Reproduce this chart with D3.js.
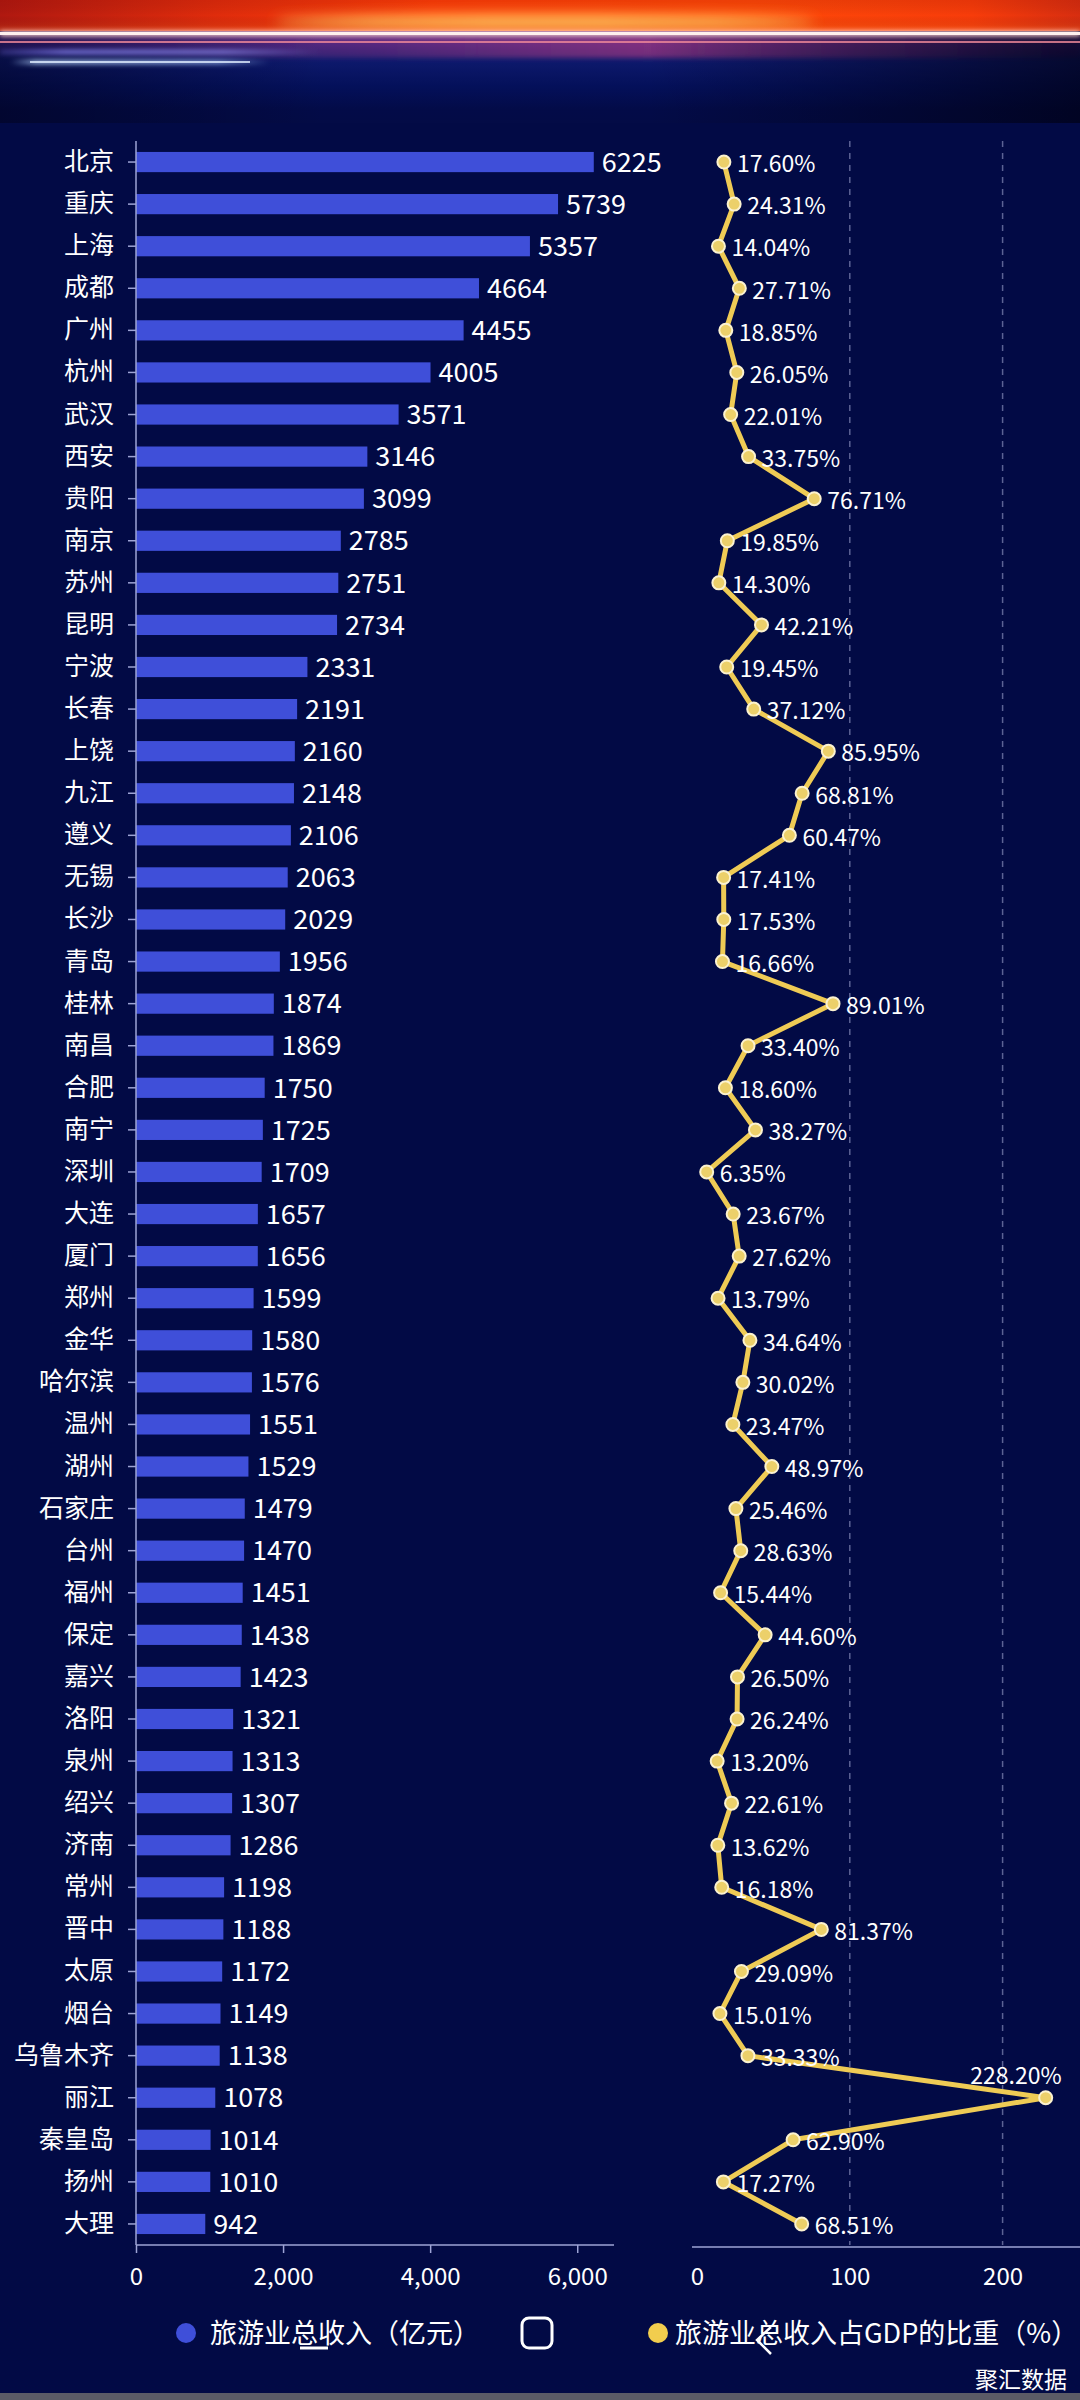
<!DOCTYPE html>
<html><head><meta charset="utf-8">
<script src="https://cdn.jsdelivr.net/npm/d3@7"></script>
<style>html,body{margin:0;padding:0;background:#030b44;}svg{display:block;}</style>
</head><body>
<svg id="c" width="1080" height="2400"></svg>
<script>
const categories = ["北京","重庆","上海","成都","广州","杭州","武汉","西安","贵阳","南京","苏州","昆明","宁波","长春","上饶","九江","遵义","无锡","长沙","青岛","桂林","南昌","合肥","南宁","深圳","大连","厦门","郑州","金华","哈尔滨","温州","湖州","石家庄","台州","福州","保定","嘉兴","洛阳","泉州","绍兴","济南","常州","晋中","太原","烟台","乌鲁木齐","丽江","秦皇岛","扬州","大理"];
const revenue = [6225,5739,5357,4664,4455,4005,3571,3146,3099,2785,2751,2734,2331,2191,2160,2148,2106,2063,2029,1956,1874,1869,1750,1725,1709,1657,1656,1599,1580,1576,1551,1529,1479,1470,1451,1438,1423,1321,1313,1307,1286,1198,1188,1172,1149,1138,1078,1014,1010,942];
const gdpShare = [17.60,24.31,14.04,27.71,18.85,26.05,22.01,33.75,76.71,19.85,14.30,42.21,19.45,37.12,85.95,68.81,60.47,17.41,17.53,16.66,89.01,33.40,18.60,38.27,6.35,23.67,27.62,13.79,34.64,30.02,23.47,48.97,25.46,28.63,15.44,44.60,26.50,26.24,13.20,22.61,13.62,16.18,81.37,29.09,15.01,33.33,228.20,62.90,17.27,68.51];
const leftTicks = [0,2000,4000,6000];
const rightTicks = [0,100,200];
const seriesNames = ["旅游业总收入（亿元）","旅游业总收入占GDP的比重（%）"];
const watermark = "聚汇数据";

(function(){
const FONT = '"Noto Sans CJK SC","Noto Sans",sans-serif';
const svg = d3.select("#c").style("font-family", FONT);
const defs = svg.append("defs");

svg.append("rect").attr("width",1080).attr("height",2400).attr("fill","#020a45");

// ---- banner ----
function grad(id, horiz, stops){
  const g = defs.append("linearGradient").attr("id",id).attr("x1",0).attr("y1",0).attr("x2",horiz?1:0).attr("y2",horiz?0:1);
  stops.forEach(s=>g.append("stop").attr("offset",s[0]).attr("stop-color",s[1]).attr("stop-opacity",s[2]==null?1:s[2]));
}
grad("gTopH", true, [[0,"#b01810"],[0.2,"#e02c0c"],[0.4,"#ff3e08"],[0.7,"#ff4808"],[0.9,"#f83c0a"],[1,"#d82e10"]]);
grad("gTopV", false, [[0,"#600000",0.12],[0.5,"#000",0],[1,"#ff9030",0.2]]);
grad("gLowV", false, [[0,"#6a2a78"],[0.12,"#3a2080"],[0.3,"#0e1a6e"],[0.6,"#04105a"],[0.85,"#030b48"],[1,"#030b46"]]);
grad("gLowH", true, [[0,"#000014",0.45],[0.3,"#000014",0],[0.6,"#000014",0],[1,"#000010",0.65]]);
grad("gMag", true, [[0,"#c04080",0],[0.35,"#c04080",0.25],[0.6,"#b03a80",0.6],[0.85,"#802a60",0.4],[1,"#401030",0.2]]);
grad("gStreakA", true, [[0,"#7f7cff",0.3],[0.2,"#8f8cff",0.9],[0.7,"#9a98ff",0.8],[1,"#9a98ff",0]]);
grad("gStreakB", true, [[0,"#a8c8ff",0],[0.1,"#b8d8ff",0.95],[0.8,"#a8c8ff",0.8],[1,"#a8c8ff",0]]);
const blur = defs.append("filter").attr("id","blur").attr("x","-20%").attr("y","-300%").attr("width","140%").attr("height","700%");
blur.append("feGaussianBlur").attr("stdDeviation",2.5);
const blur2 = defs.append("filter").attr("id","blur2").attr("x","-20%").attr("y","-300%").attr("width","140%").attr("height","700%");
blur2.append("feGaussianBlur").attr("stdDeviation",7);

svg.append("rect").attr("x",0).attr("y",0).attr("width",1080).attr("height",31).attr("fill","url(#gTopH)");
svg.append("rect").attr("x",0).attr("y",0).attr("width",1080).attr("height",31).attr("fill","url(#gTopV)");
svg.append("ellipse").attr("cx",545).attr("cy",22).attr("rx",270).attr("ry",6).attr("fill","#ffe070").attr("opacity",0.95).attr("filter","url(#blur2)");
svg.append("rect").attr("x",0).attr("y",31).attr("width",1080).attr("height",92).attr("fill","url(#gLowV)");
svg.append("rect").attr("x",0).attr("y",36).attr("width",1080).attr("height",22).attr("fill","url(#gMag)").attr("filter","url(#blur)");
svg.append("rect").attr("x",0).attr("y",31).attr("width",1080).attr("height",92).attr("fill","url(#gLowH)");
svg.append("rect").attr("x",0).attr("y",31).attr("width",1080).attr("height",5).attr("fill","#ffd8d4").attr("filter","url(#blur)");
svg.append("rect").attr("x",0).attr("y",32).attr("width",1080).attr("height",3).attr("fill","#fff0ee");
svg.append("rect").attr("x",0).attr("y",41).attr("width",1080).attr("height",2).attr("fill","#f08a9a").attr("opacity",0.8);
svg.append("rect").attr("x",0).attr("y",50).attr("width",320).attr("height",4).attr("fill","url(#gStreakA)").attr("filter","url(#blur)");
svg.append("rect").attr("x",10).attr("y",60).attr("width",260).attr("height",4).attr("fill","url(#gStreakB)").attr("filter","url(#blur)");
svg.append("rect").attr("x",30).attr("y",61).attr("width",220).attr("height",2).attr("fill","#e0ecff").attr("opacity",0.8);

// ---- left bar chart ----
const y0 = 141, y1 = 2245;
const y = d3.scaleBand().domain(categories).range([y0, y1]).paddingInner(0.52).paddingOuter(0.26);
const xL = d3.scaleLinear().domain([0,6500]).range([136,614]);
const axisCol = "#9ea4d6";

svg.append("g").selectAll("rect").data(categories).join("rect")
  .attr("x", xL(0)).attr("y", d=>y(d)).attr("height", y.bandwidth())
  .attr("width", (d,i)=>xL(revenue[i])-xL(0)).attr("fill","#3f4fd9");

svg.append("g").selectAll("text").data(categories).join("text")
  .attr("x",(d,i)=>xL(revenue[i])+8).attr("y",d=>y(d)+y.bandwidth()/2).attr("dy","0.36em")
  .attr("fill","#ffffff").attr("font-size",27).text((d,i)=>revenue[i]);

const yAx = svg.append("g").attr("transform","translate(136,0)")
  .call(d3.axisLeft(y).tickSize(8).tickPadding(14));
yAx.select(".domain").attr("stroke",axisCol).attr("stroke-width",1.5).attr("d",`M0,${y0}V${y1}`);
yAx.selectAll(".tick line").attr("stroke",axisCol).attr("stroke-width",1.5);
yAx.selectAll(".tick text").attr("fill","#ffffff").attr("font-size",25).attr("font-family",FONT);

const xAx = svg.append("g").attr("transform",`translate(0,${y1})`)
  .call(d3.axisBottom(xL).tickValues(leftTicks).tickFormat(d3.format(",")).tickSize(8).tickPadding(15));
xAx.select(".domain").attr("stroke",axisCol).attr("stroke-width",1.5).attr("d",`M136,0H614`);
xAx.selectAll(".tick line").attr("stroke",axisCol).attr("stroke-width",1.5);
xAx.selectAll(".tick text").attr("fill","#ffffff").attr("font-size",24).attr("font-family",FONT);

// ---- right line chart ----
const xR = d3.scaleLinear().domain([0,250]).range([697,1079]);
svg.append("g").selectAll("line").data(rightTicks.filter(d=>d>0)).join("line")
  .attr("x1",d=>xR(d)).attr("x2",d=>xR(d)).attr("y1",y0).attr("y2",y1)
  .attr("stroke","#5c6394").attr("stroke-width",1.5).attr("stroke-dasharray","6,6");

const rAx = svg.append("g").attr("transform",`translate(0,${y1+2})`)
  .call(d3.axisBottom(xR).tickValues(rightTicks).tickSize(0).tickPadding(21));
rAx.select(".domain").attr("stroke",axisCol).attr("stroke-width",1.5).attr("d",`M692,0H1080`);
rAx.selectAll(".tick text").attr("fill","#ffffff").attr("font-size",24).attr("font-family",FONT);

const cy = d=>y(d)+y.bandwidth()/2;
const line = d3.line().x((d,i)=>xR(gdpShare[i])).y(d=>cy(d)).curve(d3.curveLinear);
svg.append("path").datum(categories).attr("d",line).attr("fill","none")
  .attr("stroke","#efcb55").attr("stroke-width",5).attr("stroke-linejoin","round");
svg.append("g").selectAll("circle").data(categories).join("circle")
  .attr("cx",(d,i)=>xR(gdpShare[i])).attr("cy",d=>cy(d)).attr("r",6.5)
  .attr("fill","#ecd06a").attr("stroke","#fbf2d0").attr("stroke-width",2);
svg.append("g").selectAll("text").data(categories).join("text")
  .each(function(d,i){
    const px = xR(gdpShare[i]), py = cy(d);
    const t = d3.select(this).attr("fill","#ffffff").attr("font-size",23).text(gdpShare[i].toFixed(2)+"%");
    if (px + 14 + 90 > 1080) {
      t.attr("x",px+16).attr("y",py-22).attr("dy","0.36em").attr("text-anchor","end");
    } else {
      t.attr("x",px+13).attr("y",py+2).attr("dy","0.36em");
    }
  });

// ---- legend ----
const lg = svg.append("g");
lg.append("circle").attr("cx",186).attr("cy",2333).attr("r",10).attr("fill","#3f4fd9");
lg.append("text").attr("x",210).attr("y",2333).attr("dy","0.36em").attr("fill","#ffffff").attr("font-size",27).text(seriesNames[0]);
lg.append("circle").attr("cx",658).attr("cy",2333).attr("r",10).attr("fill","#f2cd4e");
lg.append("text").attr("x",675).attr("y",2333).attr("dy","0.36em").attr("fill","#ffffff").attr("font-size",27).text(seriesNames[1]);

// navigation overlay icons in the photo
svg.append("line").attr("x1",300).attr("x2",328).attr("y1",2348).attr("y2",2348).attr("stroke","#fff").attr("stroke-width",3);
svg.append("rect").attr("x",522).attr("y",2318).attr("width",30).attr("height",30).attr("rx",7).attr("fill","none").attr("stroke","#fff").attr("stroke-width",3);
svg.append("path").attr("d","M771,2327L757,2340L771,2354").attr("fill","none").attr("stroke","#fff").attr("stroke-width",2.5);

svg.append("text").attr("x",1067).attr("y",2380).attr("dy","0.35em").attr("text-anchor","end").attr("fill","#ffffff").attr("font-size",23).text(watermark);
svg.append("rect").attr("x",0).attr("y",2393).attr("width",1080).attr("height",7).attr("fill","#5b5b66");
})();
</script>
</body></html>
